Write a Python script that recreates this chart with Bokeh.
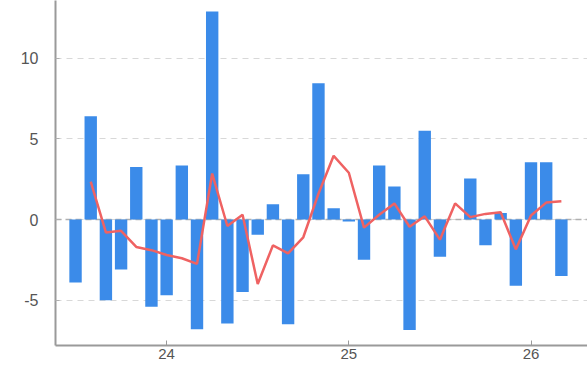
import math
from bokeh.plotting import figure
from bokeh.models import ColumnDataSource, FixedTicker, Span, Range1d, CustomJSTickFormatter
from bokeh.embed import file_html
from bokeh.resources import INLINE

# Months from Jul 2023 to Mar 2026 (year as two digits, month number)
months = [(23, m) for m in range(7, 13)] + [(24, m) for m in range(1, 13)] + \
         [(25, m) for m in range(1, 13)] + [(26, m) for m in range(1, 4)]

bar_values = [-3.9, 6.4, -5.0, -3.1, 3.25, -5.4, -4.7, 3.35, -6.8, 12.9,
              -6.45, -4.5, -0.95, 0.95, -6.5, 2.8, 8.45, 0.7, -0.12, -2.5,
              3.35, 2.05, -6.85, 5.5, -2.3, 0.0, 2.55, -1.6, 0.4, -4.1,
              3.55, 3.55, -3.5]

line_values = [math.nan, 2.35, -0.8, -0.7, -1.7, -1.9, -2.2, -2.4, -2.75, 2.85,
               -0.4, 0.3, -4.0, -1.6, -2.1, -1.1, 1.6, 3.95, 2.9, -0.5,
               0.3, 1.0, -0.45, 0.2, -1.25, 1.0, 0.15, 0.35, 0.45, -1.85,
               0.25, 1.05, 1.13]

year_ticks = [24, 25, 26]
y_ticks = [-5, 0, 5, 10]

x = [y + (m - 1) / 12 for (y, m) in months]

src = ColumnDataSource(dict(x=x, bar=bar_values, line=line_values))

p = figure(width=587, height=365, output_backend="svg", toolbar_location=None,
           x_range=Range1d(23.39, 26.31), y_range=Range1d(-7.81, 13.58),
           min_border_left=55, min_border_right=0, min_border_top=0,
           min_border_bottom=20, outline_line_color=None,
           background_fill_color="white", border_fill_color="white")

zero = Span(location=0, dimension="width", line_color="#b0b0b0", line_width=1.5,
            line_dash="6 4", level="underlay")
p.add_layout(zero)

p.vbar(x="x", top="bar", bottom=0, width=0.068, source=src,
       fill_color="#3b8be9", line_color=None)
p.line(x="x", y="line", source=src, line_color="#ef6262", line_width=2.5)

p.xgrid.visible = False
p.ygrid.ticker = FixedTicker(ticks=y_ticks)
p.ygrid.grid_line_color = "#d8d8d8"
p.ygrid.grid_line_dash = "6 5"
p.ygrid.grid_line_width = 1

p.xaxis.ticker = FixedTicker(ticks=year_ticks)
p.yaxis.ticker = FixedTicker(ticks=y_ticks)
plain = CustomJSTickFormatter(code="return tick.toString();")
for ax in (p.xaxis, p.yaxis):
    ax.axis_line_color = "#9a9a9a"
    ax.axis_line_width = 2
    ax.major_tick_in = 5
    ax.major_tick_out = 0
    ax.major_tick_line_color = "#9a9a9a"
    ax.minor_tick_line_color = None
    ax.major_label_text_font = "Liberation Sans"
    ax.major_label_text_color = "#555555"
    ax.formatter = plain
p.yaxis.major_label_text_font_size = "16px"
p.xaxis.major_label_text_font_size = "15px"
p.yaxis.major_tick_in = 4
p.yaxis.major_tick_line_color = "#b0b0b0"
p.yaxis.major_label_standoff = 17
p.xaxis.major_label_standoff = 3

open("out.html", "w").write(file_html(p, INLINE))
